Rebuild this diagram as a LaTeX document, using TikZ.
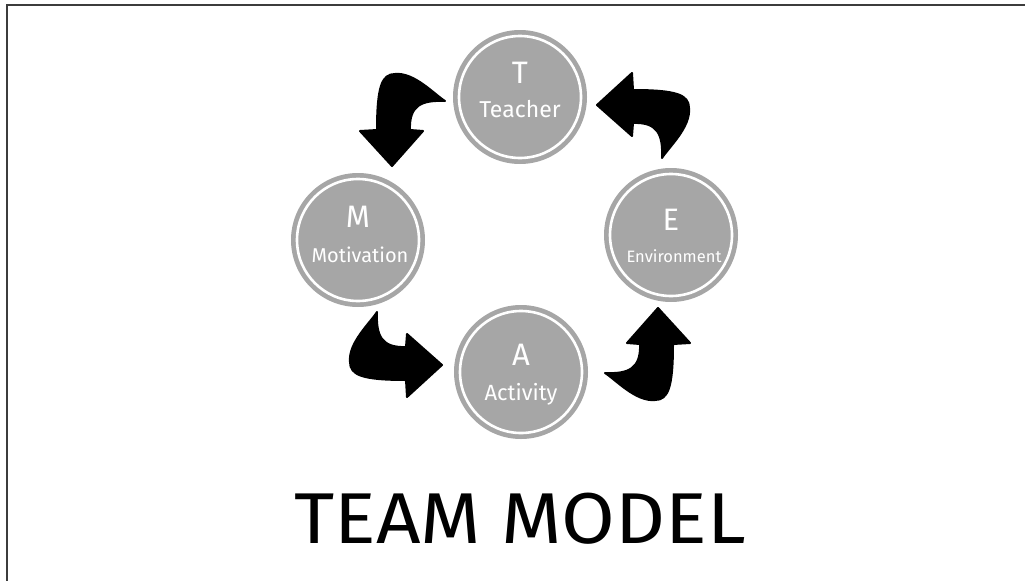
\documentclass[tikz,border=0pt]{standalone}
\usepackage{fontspec}
\setmainfont{Fira Sans}
\definecolor{circgray}{HTML}{A6A6A6}
\definecolor{framegray}{HTML}{3C3C3C}
\tikzset{
  teamcircle/.style={circle, fill=circgray, minimum size=134pt, inner sep=0pt},
  innerring/.style={draw=white, line width=2.6pt},
  bigletter/.style={text=white, anchor=base, inner sep=0pt, font=\fontsize{31}{31}\selectfont},
  wordlabel/.style={text=white, anchor=base, inner sep=0pt},
  curvearrow/.pic={
    \filldraw[black, line width=2pt, line join=round]
      (0,0) -- (31,35) -- (18,36)
      .. controls (17,61) and (30,66) .. (53,65)
      .. controls (42,72) and (22,94) .. (3,92)
      .. controls (-10,92) and (-15,80) .. (-15,36)
      -- (-32,35) -- cycle;
  }
}
\begin{document}
\begin{tikzpicture}[x=1pt,y=1pt]
  \useasboundingbox (0,0) rectangle (1025,-581);
  % frame
  \coordinate (frTL) at (7,-5);
  \coordinate (frTR) at (1025,-5);
  \coordinate (frBL) at (7,-581);
  \draw[framegray, line width=2pt] (frTR) -- (frTL) -- (frBL);

  % circles
  \node[teamcircle] (T) at (520,-97) {};
  \node[teamcircle] (M) at (358,-240) {};
  \node[teamcircle] (E) at (671,-235) {};
  \node[teamcircle] (A) at (521,-372) {};
  \foreach \c in {T,M,E,A} {
    \draw[innerring] (\c.center) circle (61pt);
  }

  % texts
  \node[bigletter] (Tl) at (520,-83) {T};
  \node[wordlabel, font=\fontsize{23}{23}\selectfont] (Tw) at (520,-117) {Teacher};
  \node[bigletter] (Ml) at (358,-227) {M};
  \node[wordlabel, font=\fontsize{20}{20}\selectfont] (Mw) at (360,-262) {Motivation};
  \node[bigletter] (El) at (671,-230) {E};
  \node[wordlabel, font=\fontsize{16.5}{16.5}\selectfont] (Ew) at (674,-262) {Environment};
  \node[bigletter] (Al) at (521,-365) {A};
  \node[wordlabel, font=\fontsize{22}{22}\selectfont] (Aw) at (521,-400) {Activity};

  % arrows
  \pic at (392,-166) {curvearrow};
  \pic[rotate=-90] at (597,-105) {curvearrow};
  \pic[rotate=90] at (442,-365) {curvearrow};
  \pic[rotate=180] at (658,-308) {curvearrow};

  % title
  \node[anchor=base, inner sep=0pt, font=\fontsize{72}{72}\selectfont] (title) at (520,-543) {\scalebox{1.08}[1]{TEAM MODEL}};
\end{tikzpicture}
\end{document}
